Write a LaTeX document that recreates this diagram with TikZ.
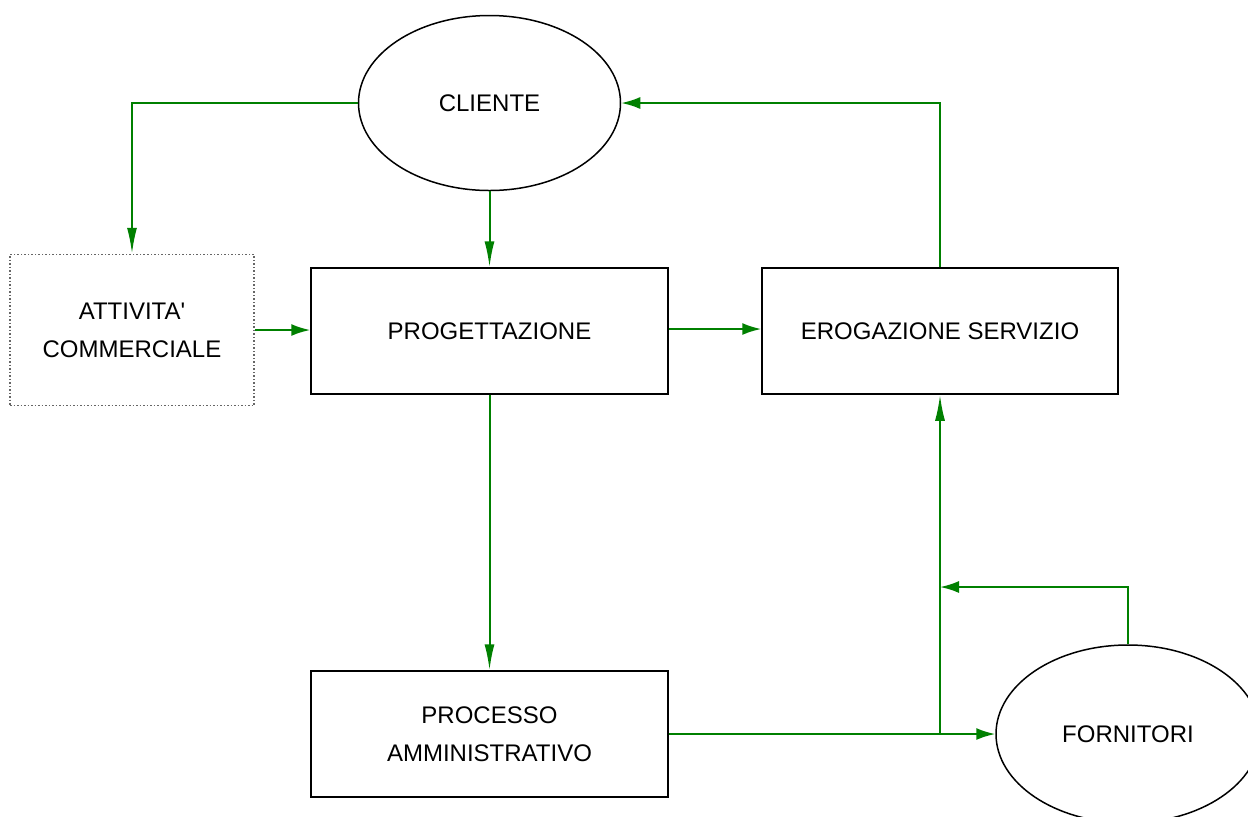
\documentclass[tikz,border=0pt]{standalone}
\usepackage{fontspec}
\setmainfont{Liberation Sans}
\usetikzlibrary{arrows.meta,shapes.geometric}

\begin{document}
\begin{tikzpicture}[x=0.5pt,y=-0.5pt,>={Latex[length=9.5pt,width=6pt]},
  font=\fontsize{12}{19}\selectfont,
  blocco/.style={draw,line width=0.75pt,align=center,inner sep=0pt,
    minimum width=178.5pt,minimum height=63pt},
  ente/.style={draw,ellipse,line width=0.75pt,inner sep=0pt},
  flusso/.style={draw=green!50!black,line width=1pt,->},
  verticale/.style={-{Latex[length=13pt,width=5pt]}}]

\fill[white] (0,0) rectangle (1248,816);
\useasboundingbox (0,0) rectangle (1248,816);

% entita' esterne
\node[ente,minimum width=131pt,minimum height=87.5pt] (cliente) at (489.5,103) {CLIENTE};
\node[ente,minimum width=132pt,minimum height=89pt] (fornitori) at (1128,734) {FORNITORI};

% processi
\node[blocco,draw=black!60,densely dotted,minimum width=122pt,minimum height=75.5pt]
  (commerciale) at (132,330) {ATTIVITA\textquotesingle\\COMMERCIALE};
\node[blocco] (progettazione) at (489.5,331) {PROGETTAZIONE};
\node[blocco,minimum width=178pt] (erogazione) at (940,331) {EROGAZIONE SERVIZIO};
\node[blocco] (amministrativo) at (489.5,734) {PROCESSO\\AMMINISTRATIVO};

\coordinate (nodo1) at (erogazione.south |- amministrativo.east);
\coordinate (nodo2) at (erogazione.south |- 0,587);

% flussi
\draw[flusso,verticale] (cliente.west) -| (commerciale.north);
\draw[flusso,verticale] (cliente.south) -- (progettazione.north);
\draw[flusso] (commerciale.east |- 0,330) -- (progettazione.west |- 0,330);
\draw[flusso] (progettazione.east |- 0,329) -- (erogazione.west |- 0,329);
\draw[flusso] (erogazione.north) |- (cliente.east);
\draw[flusso,verticale] (progettazione.south) -- (amministrativo.north);
\draw[flusso] (amministrativo.east) -- (fornitori.west);
\draw[flusso,verticale] (nodo1) -- (erogazione.south);
\draw[flusso] (fornitori.north) |- (nodo2);

\end{tikzpicture}
\end{document}
